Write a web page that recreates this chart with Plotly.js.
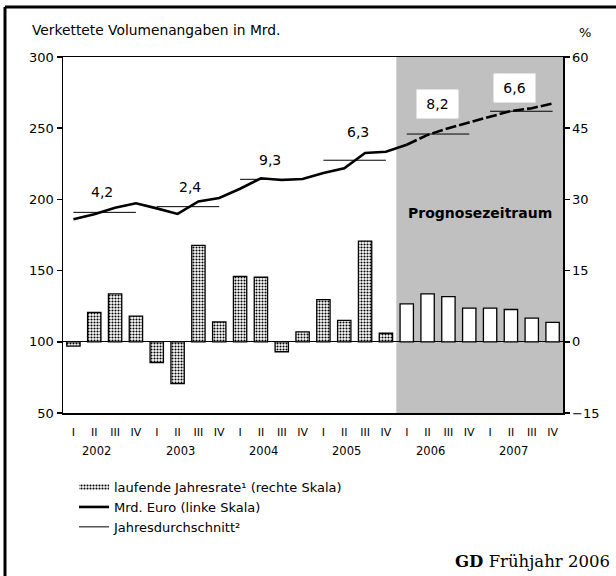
<!DOCTYPE html>
<html>
<head>
<meta charset="utf-8">
<script src="https://cdn.plot.ly/plotly-3.0.1.min.js"></script>
<style>
  html, body { margin: 0; padding: 0; background: #fff; }
  #chart { width: 616px; height: 576px; }
</style>
</head>
<body>
<div id="chart"></div>
<script>
// ---------- data ----------
const quarterLabels = ['I', 'II', 'III', 'IV'];
const years = ['2002', '2003', '2004', '2005', '2006', '2007'];
// laufende Jahresrate (%), right scale
const rate = [-0.9, 6.2, 10.1, 5.4, -4.4, -8.8, 20.3, 4.2, 13.8, 13.6, -2.1, 2.1,
              8.9, 4.5, 21.2, 1.8, 8.0, 10.1, 9.5, 7.1, 7.1, 6.8, 5.0, 4.1];
// Mrd. Euro, left scale
const volume = [186.0, 189.5, 194.2, 197.3, 193.7, 189.8, 198.6, 201.0, 207.5, 214.8, 213.6, 214.3,
                218.6, 221.9, 232.6, 233.5, 238.4, 245.3, 250.0, 254.0, 258.1, 262.1, 264.0, 267.4];
// Jahresdurchschnitt, left scale
const yearAvg = [190.9, 194.9, 214.1, 227.5, 245.9, 261.9];
// growth labels per year
const growthLabels = ['4,2', '2,4', '9,3', '6,3', '8,2', '6,6'];
const forecastStartYear = 4; // 2006

// ---------- derived ----------
const nQ = rate.length;
const qx = rate.map((_, i) => i + 0.5);
const qText = qx.map((_, i) => quarterLabels[i % 4]);
const fStart = forecastStartYear * 4;
const boundaries = years.map((_, i) => i * 4).concat([years.length * 4]);

const FONT = 'DejaVu Sans, Arial, sans-serif';

const avgX = [], avgY = [];
yearAvg.forEach((v, i) => {
  avgX.push(i * 4 + 0.5, i * 4 + 3.5, null);
  avgY.push(v, v, null);
});

const pattern = { shape: '.', fgcolor: '#000', bgcolor: '#fff', size: 3, solidity: 0.4 };

const traces = [
  // legend-only entry for the bars
  { type: 'scatter', x: [null], y: [null], mode: 'none', fill: 'toself',
    fillcolor: '#fff', fillpattern: pattern,
    name: 'laufende Jahresrate¹ (rechte Skala)', xaxis: 'x', yaxis: 'y2', hoverinfo: 'skip' },
  { type: 'bar', x: qx.slice(0, fStart), y: rate.slice(0, fStart), xaxis: 'x', yaxis: 'y2',
    width: 0.64, showlegend: false,
    marker: { color: '#fff', pattern: pattern, line: { color: '#000', width: 1.3 } } },
  { type: 'bar', x: qx.slice(fStart), y: rate.slice(fStart), xaxis: 'x', yaxis: 'y2',
    width: 0.64, showlegend: false,
    marker: { color: '#fff', line: { color: '#000', width: 1.3 } } },
  { type: 'scatter', mode: 'lines', x: qx.slice(0, fStart + 1), y: volume.slice(0, fStart + 1),
    xaxis: 'x', yaxis: 'y', name: 'Mrd. Euro (linke Skala)',
    line: { color: '#000', width: 2.6 } },
  { type: 'scatter', mode: 'lines', x: qx.slice(fStart), y: volume.slice(fStart),
    xaxis: 'x', yaxis: 'y', showlegend: false,
    line: { color: '#000', width: 2.6, dash: '11px,3px' } },
  { type: 'scatter', mode: 'lines', x: avgX, y: avgY, xaxis: 'x', yaxis: 'y',
    name: 'Jahresdurchschnitt²', connectgaps: false,
    line: { color: '#000', width: 1 } }
];

// ---------- annotations ----------
const labelShiftY = [20, 20, 19, 28.5, 30, 23];
const labelShiftX = [-3, 2, -1, 3, -1, -7];
const annotations = [];
growthLabels.forEach((t, i) => {
  const fc = i >= forecastStartYear;
  annotations.push({
    xref: 'x', yref: 'y', x: i * 4 + 2, y: yearAvg[i], text: t, showarrow: false,
    yshift: labelShiftY[i], xshift: labelShiftX[i],
    font: { family: FONT, size: 14, color: '#000' },
    bgcolor: fc ? '#fff' : 'rgba(0,0,0,0)', width: fc ? 39 : undefined, height: fc ? 26 : undefined
  });
});
years.forEach((y, i) => {
  annotations.push({
    xref: 'x', yref: 'paper', x: i * 4 + 2, y: -0.108, yanchor: 'middle', text: y, showarrow: false,
    xshift: -8, font: { family: FONT, size: 11.5, color: '#000' }
  });
});
annotations.push(
  { xref: 'x', yref: 'y', x: (fStart + nQ) / 2, y: 190.2, text: '<b>Prognosezeitraum</b>',
    showarrow: false, font: { family: FONT, size: 14, color: '#000' } },
  { xref: 'paper', yref: 'paper', x: -0.066, y: 1.076, xanchor: 'left', yanchor: 'middle',
    text: 'Verkettete Volumenangaben in Mrd.', showarrow: false,
    font: { family: FONT, size: 13.8, color: '#000' } },
  { xref: 'paper', yref: 'paper', x: 1.044, y: 1.070, xanchor: 'center', yanchor: 'middle',
    text: '%', showarrow: false, font: { family: FONT, size: 13, color: '#000' } },
  { xref: 'paper', yref: 'paper', x: 1.098, y: -0.416, xanchor: 'right', yanchor: 'middle',
    text: '<b>GD</b> Frühjahr 2006', showarrow: false,
    font: { family: 'DejaVu Serif, Liberation Serif, serif', size: 16.5, color: '#000' } }
);

const axBase = { showgrid: false, zeroline: false, color: '#000', tickcolor: '#000',
                 tickwidth: 1.5, ticklen: 5, fixedrange: true };

const layout = {
  width: 616, height: 576,
  margin: { l: 63, r: 53, t: 57, b: 163, pad: 0 },
  paper_bgcolor: '#fff', plot_bgcolor: '#fff',
  font: { family: FONT, size: 13, color: '#000' },
  barmode: 'overlay',
  showlegend: true,
  legend: { x: 0.022, y: -0.166, xanchor: 'left', yanchor: 'top', bgcolor: 'rgba(0,0,0,0)',
            font: { family: FONT, size: 13, color: '#000' }, traceorder: 'normal',
            tracegroupgap: 0 },
  xaxis: Object.assign({}, axBase, {
    range: [0, nQ], tickmode: 'array', tickvals: qx, ticktext: qText, ticks: '',
    showline: true, linecolor: '#000', linewidth: 1.5, mirror: true,
    tickfont: { family: FONT, size: 11 }, ticklabelstandoff: 8
  }),
  xaxis2: Object.assign({}, axBase, {
    overlaying: 'x', anchor: 'y', range: [0, nQ], tickmode: 'array', tickvals: boundaries,
    ticks: 'outside', showticklabels: false, showline: false
  }),
  xaxis3: Object.assign({}, axBase, {
    overlaying: 'x', anchor: 'y', range: [0, nQ], tickmode: 'array', tickvals: boundaries,
    ticks: 'inside', showticklabels: false, showline: false
  }),
  yaxis: Object.assign({}, axBase, {
    range: [50, 300], tickmode: 'linear', tick0: 50, dtick: 50, ticks: 'outside',
    showline: true, linecolor: '#000', linewidth: 1.5, tickfont: { family: FONT, size: 13 }
  }),
  yaxis3: Object.assign({}, axBase, {
    overlaying: 'y', anchor: 'x', range: [50, 300], tickmode: 'linear', tick0: 50, dtick: 50,
    ticks: 'inside', showticklabels: false, showline: false
  }),
  yaxis2: Object.assign({}, axBase, {
    overlaying: 'y', side: 'right', anchor: 'x', range: [-15, 60], tickmode: 'linear',
    tick0: -15, dtick: 15, ticks: 'outside', showline: true, linecolor: '#000', linewidth: 1.5,
    zeroline: true, zerolinecolor: '#000', zerolinewidth: 1.3,
    tickfont: { family: FONT, size: 13 }
  }),
  yaxis4: Object.assign({}, axBase, {
    overlaying: 'y', side: 'right', anchor: 'x', range: [-15, 60], tickmode: 'linear',
    tick0: -15, dtick: 15, ticks: 'inside', showticklabels: false, showline: false
  }),
  shapes: [
    { type: 'rect', xref: 'x', yref: 'paper', x0: fStart, x1: nQ, y0: 0, y1: 1,
      fillcolor: '#c0c0c0', line: { width: 0 }, layer: 'below' },
    { type: 'line', xref: 'paper', yref: 'paper', x0: -0.116, x1: 1.2, y0: 1.1404, y1: 1.1404,
      line: { color: '#000', width: 3 } },
    { type: 'line', xref: 'paper', yref: 'paper', x0: -0.116, x1: -0.116, y0: 1.1404, y1: -0.5,
      line: { color: '#000', width: 3 } }
  ],
  annotations: annotations
};

Plotly.newPlot('chart', traces, layout, { displayModeBar: false, staticPlot: true });
</script>
</body>
</html>
